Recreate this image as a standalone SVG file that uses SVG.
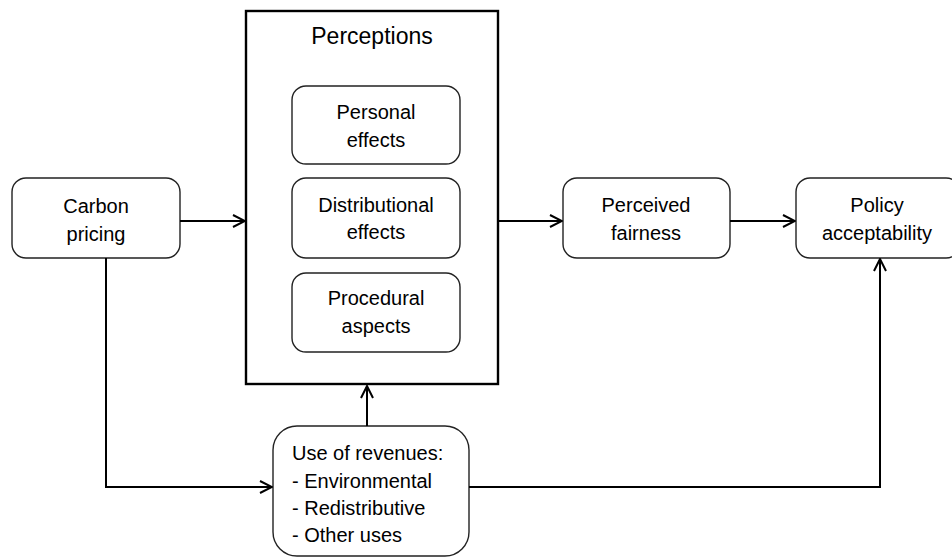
<svg xmlns="http://www.w3.org/2000/svg" width="952" height="557" viewBox="0 0 952 557">
<style>
.box{fill:#fff;stroke:#222;stroke-width:1.4}
.big{fill:#fff;stroke:#000;stroke-width:2.4}
.t{font-family:"Liberation Sans",Arial,sans-serif;font-size:20px;fill:#000;text-anchor:middle}
.tl{font-family:"Liberation Sans",Arial,sans-serif;font-size:20px;fill:#000}
.title{font-family:"Liberation Sans",Arial,sans-serif;font-size:23px;fill:#000;text-anchor:middle}
.c{fill:none;stroke:#000;stroke-width:2}
</style>
<defs>
<marker id="arr" viewBox="0 0 14 14" refX="13" refY="7" markerWidth="14" markerHeight="14" markerUnits="userSpaceOnUse" orient="auto">
<path d="M1,1 L13,7 L1,13" fill="none" stroke="#000" stroke-width="2"/>
</marker>
</defs>
<rect width="952" height="557" fill="#fff"/>
<g id="perceptions">
<rect class="big" x="246" y="11" width="252" height="373"/>
<text class="title" x="372" y="44">Perceptions</text>
</g>
<g id="personal-effects">
<rect class="box" x="292" y="86" width="168" height="78" rx="14"/>
<text class="t" x="376" y="119">Personal</text>
<text class="t" x="376" y="147">effects</text>
</g>
<g id="distributional-effects">
<rect class="box" x="292" y="178" width="168" height="80" rx="14"/>
<text class="t" x="376" y="212">Distributional</text>
<text class="t" x="376" y="239">effects</text>
</g>
<g id="procedural-aspects">
<rect class="box" x="292" y="273" width="168" height="79" rx="14"/>
<text class="t" x="376" y="305">Procedural</text>
<text class="t" x="376" y="333">aspects</text>
</g>
<g id="carbon-pricing">
<rect class="box" x="12" y="178" width="168" height="80" rx="14"/>
<text class="t" x="96" y="213">Carbon</text>
<text class="t" x="96" y="241">pricing</text>
</g>
<g id="perceived-fairness">
<rect class="box" x="563" y="178" width="167" height="80" rx="14"/>
<text class="t" x="646" y="212">Perceived</text>
<text class="t" x="646" y="240">fairness</text>
</g>
<g id="policy-acceptability">
<rect class="box" x="796" y="178" width="164" height="80" rx="14"/>
<text class="t" x="877" y="212">Policy</text>
<text class="t" x="877" y="240">acceptability</text>
</g>
<g id="use-of-revenues">
<rect class="box" x="273" y="426" width="196" height="130" rx="24"/>
<text class="tl" x="292" y="460">Use of revenues:</text>
<text class="tl" x="292" y="488">- Environmental</text>
<text class="tl" x="292" y="515">- Redistributive</text>
<text class="tl" x="292" y="542">- Other uses</text>
</g>
<g id="connectors">
<path class="c" d="M180,221 H245" marker-end="url(#arr)"/>
<path class="c" d="M498,221 H562" marker-end="url(#arr)"/>
<path class="c" d="M730,221 H795" marker-end="url(#arr)"/>
<path class="c" d="M106,258 V487 H272" marker-end="url(#arr)"/>
<path class="c" d="M367,426 V386" marker-end="url(#arr)"/>
<path class="c" d="M469,487 H880 V259" marker-end="url(#arr)"/>
</g>
</svg>
